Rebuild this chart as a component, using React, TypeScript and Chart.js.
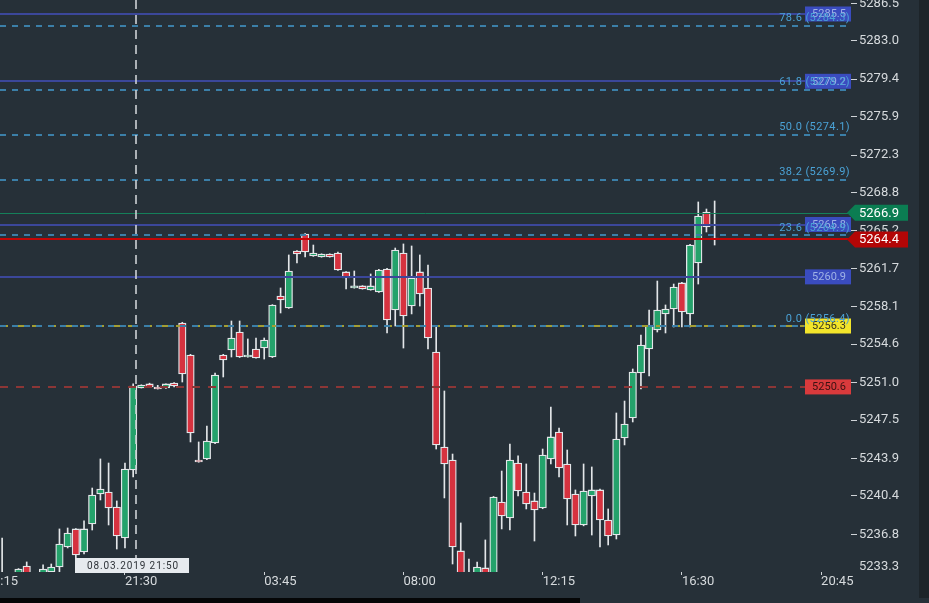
import React, { useEffect, useRef } from "react";
import { Chart, registerables } from "chart.js";

Chart.register(...registerables);

// ---------- DATA ----------
// 15-minute candles, slot 0 = 18:15 (08.03.2019); slot 13 = 21:30
const firstSlot = -2;
const opens = [
  5232.6, 5232.0, 5232.5, 5233.84, 5232.9, 5232.8, 5233.28, 5233.75, 5235.62, 5237.31,
  5235.15, 5237.77, 5240.58, 5240.77, 5239.36, 5236.46, 5242.83, 5250.5, 5250.88, 5250.59,
  5250.5, 5250.97, 5256.58, 5253.59, 5243.76, 5243.86, 5245.35, 5253.59, 5254.06, 5255.74,
  5253.4, 5254.15, 5254.24, 5253.4, 5259.11, 5257.99, 5263.32, 5264.91, 5262.85, 5262.76,
  5263.04, 5263.13, 5261.36, 5259.86, 5260.05, 5259.67, 5259.48, 5261.64, 5257.8, 5263.13,
  5258.17, 5261.36, 5259.86, 5253.87, 5244.98, 5243.76, 5235.25, 5232.8, 5232.6, 5233.66,
  5232.8, 5239.83, 5238.34, 5243.48, 5240.77, 5239.93, 5239.27, 5243.86, 5246.38, 5243.39,
  5240.58, 5237.68, 5240.39, 5240.96, 5238.15, 5236.74, 5245.82, 5247.69, 5251.9, 5254.15,
  5255.93, 5257.43, 5257.89, 5260.33, 5257.43, 5262.2, 5266.97, 5264.54,
];
const highs = [
  5236.46, 5232.9, 5233.6, 5234.22, 5233.2, 5233.94, 5234.03, 5237.31, 5237.4, 5237.35,
  5238.06, 5241.14, 5243.86, 5243.48, 5239.93, 5243.48, 5250.88, 5250.8, 5250.95, 5250.75,
  5250.9, 5251.0, 5256.65, 5253.65, 5245.45, 5246.94, 5251.9, 5253.65, 5256.77, 5256.77,
  5255.09, 5255.18, 5255.18, 5258.3, 5259.86, 5262.95, 5263.35, 5264.95, 5263.88, 5263.06,
  5263.06, 5263.23, 5261.4, 5261.45, 5260.08, 5261.17, 5261.6, 5261.7, 5263.6, 5263.98,
  5263.79, 5262.95, 5262.01, 5256.21, 5250.22, 5244.32, 5237.87, 5234.5, 5234.22, 5236.28,
  5240.35, 5242.73, 5245.26, 5244.14, 5243.39, 5240.67, 5244.79, 5248.72, 5246.76, 5244.7,
  5240.96, 5243.39, 5243.11, 5241.05, 5239.18, 5248.16, 5249.28, 5252.28, 5255.46, 5257.8,
  5260.51, 5258.27, 5260.23, 5260.4, 5263.95, 5267.91, 5267.25, 5268.0,
];
const lows = [
  5231.5, 5231.2, 5232.0, 5232.2, 5232.0, 5232.5, 5232.9, 5233.19, 5235.53, 5234.12,
  5234.97, 5237.21, 5240.02, 5237.68, 5235.43, 5235.53, 5242.17, 5250.5, 5250.55, 5250.4,
  5250.45, 5250.6, 5251.06, 5245.45, 5243.55, 5243.8, 5245.3, 5251.53, 5253.4, 5253.35,
  5253.38, 5253.28, 5253.21, 5253.35, 5257.52, 5257.95, 5262.2, 5262.76, 5262.82, 5262.74,
  5262.74, 5261.5, 5259.77, 5259.84, 5259.75, 5259.65, 5259.45, 5255.65, 5256.3, 5254.24,
  5257.43, 5258.17, 5254.15, 5244.79, 5240.21, 5234.03, 5231.8, 5231.5, 5232.0, 5232.0,
  5232.3, 5237.31, 5237.21, 5240.39, 5239.18, 5236.18, 5239.2, 5243.39, 5242.17, 5237.68,
  5236.65, 5237.6, 5236.74, 5235.62, 5235.81, 5236.37, 5245.17, 5247.32, 5250.41, 5251.62,
  5255.74, 5255.65, 5256.21, 5256.21, 5256.21, 5260.23, 5265.1, 5263.88,
];
const closes = [
  5231.9, 5232.6, 5233.56, 5232.7, 5232.6, 5233.56, 5233.75, 5235.9, 5236.93, 5234.87,
  5237.31, 5240.49, 5241.05, 5239.27, 5236.65, 5242.92, 5250.69, 5250.78, 5250.59, 5250.41,
  5250.88, 5250.69, 5251.81, 5246.29, 5243.58, 5245.54, 5251.72, 5253.12, 5255.18, 5253.4,
  5253.59, 5253.31, 5254.99, 5258.27, 5258.74, 5261.45, 5263.04, 5263.23, 5263.13, 5263.04,
  5262.76, 5261.54, 5260.8, 5260.05, 5259.77, 5260.05, 5261.54, 5256.86, 5263.41, 5257.24,
  5260.8, 5259.3, 5255.18, 5245.17, 5243.39, 5235.62, 5232.4, 5232.2, 5233.75, 5232.5,
  5240.3, 5238.52, 5243.76, 5240.86, 5239.65, 5239.08, 5244.23, 5245.92, 5243.02, 5240.11,
  5237.68, 5240.86, 5240.96, 5238.15, 5236.65, 5245.73, 5247.13, 5252.0, 5254.52, 5256.3,
  5257.8, 5257.89, 5259.95, 5257.61, 5263.88, 5266.6, 5265.57, 5264.4,
];

const xTickSlots = [-4, 13, 30, 47, 64, 81, 98];
const xTickLabels = ["17:15", "21:30", "03:45", "08:00", "12:15", "16:30", "20:45"];
const yTickValues = [
  5286.5, 5283.0, 5279.4, 5275.9, 5272.3, 5268.8, 5265.2, 5261.7,
  5258.1, 5254.6, 5251.0, 5247.5, 5243.9, 5240.4, 5236.8, 5233.3,
];

const fibValues = [5284.4, 5278.4, 5274.2, 5270.0, 5264.8, 5256.3];
const fibLabels = ["78.6 (5284.3)", "61.8 (5278.2)", "50.0 (5274.1)", "38.2 (5269.9)", "23.6 (5264.9)", "0.0 (5256.4)"];
const blueLevels = [5285.5, 5279.2, 5265.8, 5260.9];
const yellowLevel = 5256.3;
const redDashLevel = 5250.6;
const greenLevel = 5266.9;
const lastPrice = 5264.4;
const crosshairSlot = 14.33;
const crosshairLabel = "08.03.2019 21:50";

const xMin = -2.26;
const xMax = 101.65;
const yMin = 5233.28;
const yMax = 5286.81;

// ---------- STYLE ----------
const BG = "#263038";
const TXT = "#d6dadd";
const GREEN = "#24a26b";
const RED = "#d6323f";
const EDGE = "#e3e6e9";
const FONT = "Roboto";

const overlay = {
  id: "overlay",
  beforeDraw(chart: any) {
    const { ctx, width, height } = chart;
    ctx.save();
    ctx.fillStyle = BG;
    ctx.fillRect(0, 0, width, height);
    ctx.fillStyle = "#1d2429";
    ctx.fillRect(919, 0, width - 919, 598);
    ctx.fillStyle = "#050607";
    ctx.fillRect(0, 598, 580, height - 598);
    ctx.restore();
  },
  afterDatasetsDraw(chart: any) {
    const { ctx, chartArea: a, scales } = chart;
    const y = scales.y;
    const x = scales.x;
    ctx.save();
    ctx.beginPath();
    ctx.rect(a.left, a.top, a.right - a.left, a.bottom - a.top);
    ctx.clip();
    const hline = (v: number, color: string, w: number, dash: number[]) => {
      let py = y.getPixelForValue(v);
      py = w % 2 === 1 ? Math.round(py) + 0.5 : Math.round(py);
      ctx.strokeStyle = color;
      ctx.lineWidth = w;
      ctx.setLineDash(dash);
      ctx.beginPath();
      ctx.moveTo(a.left, py);
      ctx.lineTo(a.right, py);
      ctx.stroke();
    };
    blueLevels.forEach((v) => hline(v, "#3b479a", 2, []));
    hline(greenLevel, "#15805a", 1, []);
    hline(yellowLevel, "#a39e33", 2, [8, 8]);
    hline(redDashLevel, "#8c3636", 2, [8, 8]);
    fibValues.forEach((v) => hline(v, "#3b7fa8", 2, [6, 6]));
    hline(lastPrice, "#c20606", 2, []);

    // crosshair
    const cx = Math.round(x.getPixelForValue(crosshairSlot));
    ctx.strokeStyle = "rgba(205,209,213,0.8)";
    ctx.lineWidth = 2;
    ctx.setLineDash([9, 6]);
    ctx.beginPath();
    ctx.moveTo(cx, a.top);
    ctx.lineTo(cx, a.bottom);
    ctx.stroke();
    ctx.setLineDash([]);

    // price boxes
    const box = (v: number, bg: string, fg: string) => {
      const py = y.getPixelForValue(v);
      ctx.fillStyle = bg;
      ctx.fillRect(a.right - 46, py - 7.5, 46, 15);
      ctx.fillStyle = fg;
      ctx.font = `11px ${FONT}`;
      ctx.textAlign = "center";
      ctx.textBaseline = "middle";
      ctx.fillText(v.toFixed(1), a.right - 22, py + 0.5);
    };
    blueLevels.forEach((v) => box(v, "#3a4cbf", "#9fb2e6"));
    box(yellowLevel, "#f2e52b", "#3a3820");
    box(redDashLevel, "#d93a3c", "#3d1212");

    // fib labels
    ctx.font = `11px ${FONT}`;
    (ctx as any).letterSpacing = "0.4px";
    ctx.textAlign = "right";
    ctx.textBaseline = "alphabetic";
    ctx.fillStyle = "#4aa2d6";
    fibValues.forEach((v, i) => {
      const py = y.getPixelForValue(v);
      ctx.fillText(fibLabels[i], a.right - 1, py - 4.5);
    });
    (ctx as any).letterSpacing = "0px";
    ctx.restore();
  },
  afterDraw(chart: any) {
    const { ctx, chartArea: a, scales } = chart;
    const y = scales.y;
    const x = scales.x;
    ctx.save();
    // last y tick label, kept inside the plot height
    ctx.fillStyle = TXT;
    ctx.font = `13px ${FONT}`;
    ctx.textAlign = "left";
    ctx.textBaseline = "middle";
    ctx.fillText(yTickValues[yTickValues.length - 1].toFixed(1), a.right + 8, y.getPixelForValue(yTickValues[yTickValues.length - 1]) - 5);

    // right tags
    const tag = (v: number, bg: string) => {
      const py = y.getPixelForValue(v);
      const l = a.right - 4;
      ctx.fillStyle = bg;
      ctx.beginPath();
      ctx.moveTo(l, py);
      ctx.lineTo(l + 8, py - 8);
      ctx.lineTo(908, py - 8);
      ctx.lineTo(908, py + 8);
      ctx.lineTo(l + 8, py + 8);
      ctx.closePath();
      ctx.fill();
      ctx.fillStyle = "#ffffff";
      ctx.font = `13px ${FONT}`;
      ctx.textAlign = "left";
      ctx.textBaseline = "middle";
      ctx.fillText(v.toFixed(1), 859, py + 0.5);
    };
    tag(greenLevel, "#0b7d52");
    tag(lastPrice, "#b30606");

    // crosshair date label
    const cx = x.getPixelForValue(crosshairSlot);
    ctx.font = `10px ${FONT}`;
    (ctx as any).letterSpacing = "0.9px";
    const tw = ctx.measureText(crosshairLabel).width;
    const bw = tw + 22;
    const bx = Math.round(cx - 4 - bw / 2);
    ctx.fillStyle = "#e6eaee";
    ctx.fillRect(bx, 558, bw, 15);
    ctx.fillStyle = "#2e3338";
    ctx.textAlign = "left";
    ctx.textBaseline = "middle";
    ctx.fillText(crosshairLabel, bx + 12, 566);
    (ctx as any).letterSpacing = "0px";
    ctx.restore();
  },
};

export default function App() {
  const ref = useRef<HTMLCanvasElement | null>(null);
  useEffect(() => {
    if (!ref.current) return;
    const slots = opens.map((_, k) => firstSlot + k);
    const colors = opens.map((o, k) => (closes[k] >= o ? GREEN : RED));
    const chart = new Chart(ref.current, {
      type: "bar",
      data: {
        datasets: [
          {
            label: "bodies",
            data: slots.map((s, k) => ({ x: s, y: [opens[k], closes[k]] })) as any,
            backgroundColor: colors,
            borderColor: EDGE,
            borderWidth: 1.3,
            borderSkipped: false,
            barThickness: 7.5,
            grouped: false,
            order: 0,
            clip: 0,
          } as any,
          {
            label: "wicks",
            data: slots.map((s, k) => ({ x: s, y: [lows[k], highs[k]] })) as any,
            backgroundColor: EDGE,
            borderWidth: 0,
            barThickness: 1,
            grouped: false,
            order: 1,
            clip: 0,
          } as any,
        ],
      },
      options: {
        responsive: false,
        animation: false,
        devicePixelRatio: 1,
        layout: { padding: 0 },
        plugins: { legend: { display: false }, tooltip: { enabled: false } },
        scales: {
          x: {
            type: "linear",
            position: "bottom",
            min: xMin,
            max: xMax,
            offset: false,
            grid: { offset: false, drawOnChartArea: false, drawTicks: true, tickLength: 3, tickColor: "#cfd3d7" },
            border: { display: false },
            ticks: {
              autoSkip: false,
              maxRotation: 0,
              align: "start",
              padding: -1,
              color: TXT,
              font: { family: FONT, size: 13 },
              callback: (_v: any, i: number) => xTickLabels[i],
            },
            afterBuildTicks: (s: any) => {
              s.ticks = xTickSlots.map((v) => ({ value: v }));
            },
            afterFit: (s: any) => {
              s.height = 31;
              s.paddingLeft = 0;
              s.paddingRight = 0;
            },
          } as any,
          y: {
            type: "linear",
            position: "right",
            min: yMin,
            max: yMax,
            grid: {
              drawOnChartArea: false,
              drawTicks: true,
              tickLength: 6,
              tickColor: (c: any) => (c.index === yTickValues.length - 1 ? "rgba(0,0,0,0)" : "#cfd3d7"),
            },
            border: { display: false },
            ticks: {
              padding: 2,
              color: (c: any) => (c.index === yTickValues.length - 1 ? "rgba(0,0,0,0)" : TXT),
              font: { family: FONT, size: 13 },
              callback: (_v: any, i: number) => yTickValues[i].toFixed(1),
            },
            afterBuildTicks: (s: any) => {
              s.ticks = yTickValues.map((v) => ({ value: v }));
            },
            afterFit: (s: any) => {
              s.width = 78;
              s.paddingTop = 0;
              s.paddingBottom = 0;
            },
          } as any,
        },
      },
      plugins: [overlay],
    });
    return () => chart.destroy();
  }, []);
  return (
    <div style={{ position: "absolute", left: 0, top: 0, width: 929, height: 603 }}>
      <canvas ref={ref} width={929} height={603} style={{ display: "block" }} />
    </div>
  );
}
